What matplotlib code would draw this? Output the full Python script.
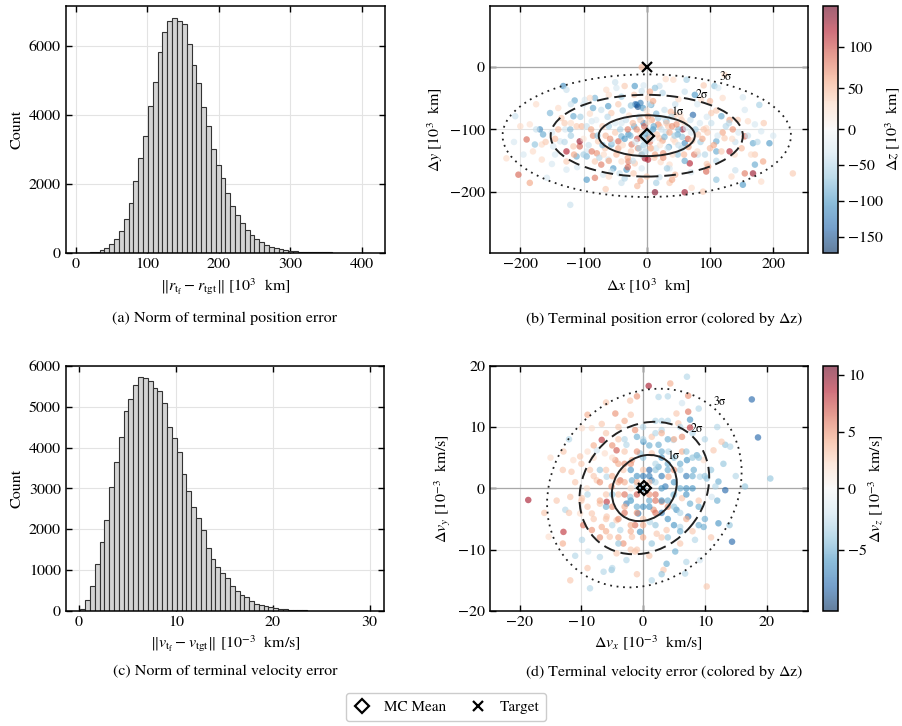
import numpy as np
import matplotlib
matplotlib.use('Agg')
import matplotlib.pyplot as plt
from matplotlib.patches import Ellipse
from matplotlib.colors import TwoSlopeNorm
from matplotlib.lines import Line2D

# ---- histogram data (60 bins each) ----
pos_bin_start, pos_bin_width = 6.3, 6.77
pos_counts = [1, 3, 12, 32, 78, 136, 243, 408, 640, 971,
              1437, 2078, 2740, 3370, 4260, 4950, 5800, 6400, 6700, 6800,
              6700, 6610, 6030, 5450, 4910, 4220, 3670, 2990, 2530, 2156,
              1738, 1360, 1097, 855, 660, 515, 388, 300, 223, 175,
              126, 97, 78, 58, 39, 30, 22, 16, 12, 9,
              7, 5, 4, 3, 2, 2, 1, 1, 0, 1]

vel_bin_start, vel_bin_width = 0.13, 0.498
vel_counts = [57, 268, 618, 1155, 1700, 2220, 3030, 3640, 4250, 4900,
              5190, 5540, 5720, 5700, 5620, 5460, 5390, 5100, 4500, 4230,
              3900, 3360, 2935, 2545, 2285, 1975, 1553, 1285, 1081, 919,
              797, 610, 496, 382, 341, 252, 171, 138, 114, 89,
              65, 49, 41, 33, 24, 18, 14, 10, 8, 6,
              5, 4, 3, 2, 2, 1, 1, 1, 0, 1]

# ---- terminal position samples [10^3 km]: (dx, dy, dz) ----
pos_samples = [
    (-132, -31, -110), (-127, -37, -40), (-114, -54, -90), (-98, -53, -30), (-82, -50, -80), (-64, -37, 30),
    (-48, -34, -30), (-35, -31, 40), (-19, -31, -100), (-8, -39, -40), (-16, -61, -140), (-208, -79, -40),
    (-185, -92, 25), (-169, -100, -110), (-164, -108, -90), (-153, -74, -80), (-140, -66, 30), (-135, -82, 40),
    (-116, -79, -90), (-129, -100, -30), (-121, -100, -80), (-111, -95, 40), (-103, -95, 50), (-87, -87, -30),
    (-85, -66, -90), (-72, -69, -40), (-61, -63, -100), (-56, -74, 40), (-190, -116, 90), (-177, -124, -70),
    (-166, -124, 30), (-148, -127, -30), (-137, -119, -30), (-127, -135, 120), (-116, -127, 40), (-106, -127, 90),
    (-106, -119, 130), (-95, -135, -30), (-87, -135, 80), (-79, -138, 70), (-77, -119, 40), (-66, -130, 40),
    (-56, -124, -90), (-45, -119, 90), (-40, -111, -80), (-29, -108, -100), (-24, -124, 80), (-14, -130, 70),
    (-8, -140, 40), (-3, -146, 130), (0, -114, -90), (-203, -172, 90), (-185, -185, 60), (-166, -148, 30),
    (-145, -140, -30), (-127, -151, 40), (-111, -143, -90), (-95, -143, -80), (-82, -151, 40), (-72, -156, 80),
    (-61, -148, -30), (-53, -162, -100), (-40, -151, 30), (-29, -151, 80), (-19, -154, 40), (-8, -162, -30),
    (-95, -180, -100), (-82, -177, 80), (-69, -172, -30), (-56, -167, -30), (-43, -170, -40), (-32, -164, -100),
    (-21, -170, 40), (-121, -220, -40), (-158, -177, -30), (-222, -146, 30), (-127, -164, -30), (-8, -1, 50),
    (20, -31, -40), (13, -34, -70), (42, -21, 30), (63, -21, -60), (107, -31, -70), (76, -45, -100),
    (86, -53, 30), (120, -50, 30), (152, -49, -30), (178, -61, -60), (7, -61, -90), (28, -69, -40),
    (44, -77, 40), (73, -77, -140), (102, -74, 40), (118, -79, -90), (131, -85, 60), (144, -85, 40),
    (160, -87, 30), (171, -92, -30), (181, -103, -30), (194, -122, -100), (18, -92, 70), (34, -95, 40),
    (57, -100, 130), (49, -108, -90), (60, -122, -110), (81, -108, 40), (94, -98, 30), (110, -119, -90),
    (123, -114, 40), (136, -100, 70), (155, -111, 90), (168, -122, -90), (171, -140, 40), (184, -151, 60),
    (171, -156, -90), (7, -130, 40), (26, -138, 70), (2, -148, 120), (36, -156, 30), (68, -154, 120),
    (94, -167, 90), (97, -159, 70), (110, -135, -90), (131, -135, 120), (139, -140, 30), (155, -170, 80),
    (168, -170, 130), (110, -180, -70), (134, -175, 30), (152, -188, -100), (181, -183, 30), (231, -170, 40),
    (13, -200, 140), (60, -200, 130), (36, -185, 40), (71, -193, 30), (89, -199, 40), (36, -162, -30),
    (49, -140, -70), (81, -140, -40), (20, -114, 40), (42, -116, 30), (31, -87, -80), (55, -85, 40),
    (2, -79, 60), (123, -13, 30), (113, -34, -30), (2, -50, 30), (155, -69, -30),
    (-60, -95, -60), (-50, -105, 40), (-40, -90, -30), (-30, -100, 80), (-20, -95, -90), (-10, -105, 30),
    (10, -100, -100), (20, -95, 50), (30, -105, -40), (40, -95, 70), (50, -100, -80), (60, -90, 30),
    (-55, -120, -40), (-45, -130, 60), (-35, -115, -100), (-25, -135, 40), (-15, -115, 100), (-5, -125, -60),
    (5, -120, 80), (15, -130, -30), (25, -118, 60), (35, -128, -90), (45, -120, 30), (55, -130, -50),
    (65, -115, 90), (70, -105, -30), (-65, -110, 50), (-70, -125, -80), (-5, -90, -120), (8, -85, 60),
    (-12, -80, -50), (15, -75, -80), (-28, -78, 30), (28, -82, -30), (-38, -70, -60), (38, -72, 50),
    (-8, -140, -70), (12, -145, 40), (-22, -150, -40), (22, -152, 30), (-30, -160, 90), (32, -162, -60),
    (0, -100, -30), (3, -112, 60), (-3, -108, -90), (-18, -60, -130), (-14, -64, -150), (-10, -58, -120),
    (-6, -66, -100), (0, -70, 20), (-25, -62, -70), (5, -60, -40), (10, -55, 60), (-45, -60, 40),
    (45, -60, -40), (-85, -110, 70), (85, -120, -60), (90, -100, 40), (-95, -95, -40), (100, -130, 50),
    (-100, -140, -60), (75, -140, 80), (-75, -145, -50), (60, -150, -90), (-60, -150, 60), (95, -80, -30),
    (-90, -75, 30), (-120, -110, -60), (120, -105, 60), (130, -90, -50), (-130, -90, 40), (140, -120, -40),
    (-145, -115, 50), (110, -150, -50), (-110, -160, -30), (0, -175, 40), (15, -185, -60), (-15, -190, 50),
    (-40, -185, -40), (40, -180, 60), (5, -40, 60), (-5, -30, -30), (60, -40, -40), (-60, -45, 30),
    (-100, -60, -30), (100, -55, 50),
    (-150, -105, -30), (-140, -100, 50), (-130, -120, -50), (-120, -90, 30), (-115, -140, 60), (-105, -80, -60),
    (-100, -115, 20), (-92, -125, -40), (-88, -100, 60), (-80, -85, -20), (-78, -110, -70), (-70, -95, 40),
    (-68, -140, 30), (-62, -80, -50), (-58, -115, 70), (-50, -90, -30), (-48, -140, 50), (-42, -100, -60),
    (-38, -125, 30), (-33, -85, -40), (-30, -145, 60), (-26, -110, -80), (-22, -90, 50), (-18, -120, -30),
    (-16, -100, 70), (-12, -130, -60), (-10, -85, 40), (-6, -115, -40), (-4, -95, 90), (-2, -135, -50),
    (2, -88, 30), (4, -105, -70), (6, -130, 50), (9, -115, -20), (11, -95, -90), (13, -140, 60),
    (16, -108, 40), (18, -82, -60), (21, -125, 20), (23, -100, -40), (26, -145, 70), (28, -112, -80),
    (31, -90, 40), (33, -130, -30), (36, -105, 60), (39, -80, -50), (41, -140, 30), (44, -110, -60),
    (47, -92, 70), (50, -125, -40), (53, -78, 30), (56, -112, -70), (59, -140, 50), (62, -98, -30),
    (66, -128, 60), (69, -85, -40), (72, -118, 40), (77, -100, -60), (80, -135, 30), (84, -90, -30),
    (88, -115, 60), (92, -140, -50), (96, -105, 40), (102, -90, -40), (106, -125, 60), (112, -110, -30),
    (118, -135, 40), (125, -95, -50), (135, -115, 30), (145, -105, -30), (150, -130, 50), (160, -110, -40),
    (-160, -120, 40), (-175, -100, -40), (-180, -135, 30), (-195, -140, -30), (165, -140, 30), (175, -120, -50),
    (-60, -175, 30), (-35, -178, -50), (-10, -182, 60), (20, -176, -40), (45, -172, 50), (70, -168, -30),
    (95, -155, 40), (-120, -60, -40), (-90, -50, 30), (-40, -48, -60), (-20, -45, 40), (25, -42, -50),
    (50, -52, 30), (80, -60, -30), (110, -70, 40), (-150, -155, -30), (-65, -195, 40), (140, -165, -40),
    (-175, -60, 30), (185, -90, 40), (200, -110, -30), (-210, -120, -30), (-200, -95, 30), (30, -20, 30),
    (-50, -25, -40), (90, -30, 40),
]
pos_dx = [p[0] for p in pos_samples]
pos_dy = [p[1] for p in pos_samples]
pos_dz = [p[2] for p in pos_samples]

pos_mean = [0.0, -110.0]
pos_cov = [[76.0 ** 2, 0.0], [0.0, 32.5 ** 2]]

# ---- terminal velocity samples [10^-3 km/s]: (dvx, dvy, dvz) ----
vel_samples = [
    (0.9, 16.7, 9), (-2.1, 14.3, 3), (-4.5, 12.2, 5), (-6.7, 10.5, 3), (-8.3, 9.8, 2), (-9.9, 9.8, 2),
    (-6.7, 7.9, 8), (-12.9, 6.0, 3), (-11.3, 4.6, 2), (-10.2, 5.2, 3), (-11.6, 2.7, 3), (-8.6, 3.0, 3),
    (-7.5, 6.2, -2), (-6.2, 5.7, 2), (-4.3, 6.2, 7), (-4.5, 4.6, 5), (-2.7, 7.1, -3), (-1.3, 9.5, 5),
    (-1.0, 8.4, -5), (0.05, 7.6, -6), (-3.2, 3.0, 3), (-3.7, 1.3, 6), (-1.8, 1.3, -5), (-18.6, -1.9, 9),
    (-12.9, -7.1, 8), (-12.6, -3.5, -3), (-11.8, -1.4, 3), (-9.9, -1.6, 3), (-9.7, -6.0, 6), (-9.9, -8.4, -3),
    (-8.3, -4.1, 3), (-8.3, -6.8, 5), (-7.0, -2.5, 3), (-5.9, -2.2, 8), (-5.9, -4.6, 3), (-6.7, -6.3, 4),
    (-7.0, -11.2, -3), (-5.4, -7.9, 3), (-4.3, -5.2, 3), (-3.7, -6.8, -3), (-2.7, -2.5, -7), (-2.1, -1.4, -4),
    (-1.3, -6.0, 6), (-1.8, -7.9, 3), (-3.2, -9.0, 5), (-5.1, -13.3, -4), (-6.4, -13.6, -3), (-8.6, -16.3, -3),
    (-11.8, -15.0, 3), (-15.3, -7.9, 2), (-0.8, -4.1, -7), (-0.5, -7.1, -6), (-1.0, 0.5, -2), (-1.8, 4.6, 4),
    (-0.5, 5.7, -4), (-5.1, 0.3, 5), (-5.9, 1.9, -3), (-7.5, 1.3, 3), (-9.1, 0.0, 2), (-10.2, -4.1, 2),
    (-8.9, -10.3, -2), (-2.7, -11.7, -3), (-1.3, -10.3, 3), (-4.3, -10.6, 3),
    (7.1, 18.2, -3), (4.4, 17.1, 4), (7.3, 15.1, 5), (2.5, 14.9, -3), (7.3, 12.5, 6), (7.6, 11.2, -6),
    (7.6, 9.9, 8), (5.7, 10.6, 3), (6.3, 8.4, 5), (4.9, 7.9, -3), (3.0, 9.5, -3), (1.4, 8.4, 3),
    (17.6, 14.5, -8), (18.6, 8.3, -8), (20.6, 1.6, -4), (13.3, 7.1, -4), (14.1, 6.8, -3), (12.7, 7.6, 3),
    (11.4, 6.2, 3), (9.8, 4.6, 2), (8.7, 5.4, -5), (7.1, 4.6, -6), (6.3, 6.0, 4), (8.2, 3.0, -5),
    (9.2, 1.9, -3), (10.3, 1.6, -4), (12.2, 1.1, -5), (11.7, 0.3, -3), (13.3, -0.3, -8), (16.5, 0.3, -4),
    (11.1, -1.4, -2), (12.2, -5.7, -6), (9.8, -6.3, -5), (8.4, -8.4, -3), (14.4, -8.7, -8), (7.3, -4.6, -7),
    (7.6, -2.5, -5), (6.3, -1.6, 3), (5.4, -3.5, -6), (6.0, -6.3, -3), (3.8, -6.8, 3), (5.2, -10.3, -5),
    (3.8, -12.3, -5), (3.3, -13.3, 3), (1.4, -9.0, -4), (2.2, -7.4, 3), (1.1, -5.5, -3), (3.6, 0.3, -7),
    (4.1, 1.9, 4), (2.5, 3.5, -5), (1.4, 1.3, -7), (3.0, -2.2, 5), (4.9, -1.1, -3), (1.7, -3.5, 5),
    (4.1, 6.0, -3), (10.3, -16.0, 3), (1.4, -15.0, -3), (9.2, -11.7, -2), (6.8, -13.9, -3), (1.4, 5.7, 3),
    (2.5, 7.1, -5), (5.4, 12.2, 3), (6.3, 13.9, -2),
    (0, 0, -5), (1, 1, 3), (-1, 2, -6), (2, -1, 6), (-2, -2, -4), (3, 2, -7), (-3, 1, 4), (1, -3, -6),
    (-1, -4, 5), (4, -2, -5), (-4, -1, 3), (2, 4, -3), (-2, 4, 5), (5, 1, -6), (-5, 2, 4), (3, -4, -7),
    (-3, -4, 6), (0, 5, -4), (0, -5, 3), (4, 4, -5), (-4, 4, 4), (4, -5, -6), (-4, -5, 5), (6, 0, -5),
    (-6, -1, 3), (1, 3, -8), (-1, -1, 7), (2, 1, -3), (-2, 0, 2), (3, -2, -6), (-3, -3, 4), (5, -3, -4),
    (-5, -3, 5), (0, 3, 3), (1, -2, -5), (6, 3, -3), (-6, 3, 3), (2, -6, -4), (-2, -6, 4), (7, -1, -6),
    (-7, 1, 5), (3, 6, -5), (-3, 6, 3), (5, 5, -4), (-5, 5, 2), (6, -4, -3), (-6, -5, 3), (7, 2, -7),
    (-7, -2, 4), (8, 0, -6), (-8, 2, 3), (0, 8, -3), (0, -8, 4), (4, 8, -5), (-4, 8, 3), (4, -8, -4),
    (-4, -8, 4), (9, -3, -5), (-9, -3, 3), (8, 5, -4), (-8, 5, 2), (6, -7, -5), (-6, -7, 4), (2, 9, -3),
    (-2, -10, 3), (10, 2, -4), (-10, -2, 3), (9, -6, -5), (-9, 6, 2), (3, 11, -3), (-3, 11, 4),
    (-10, 4, 3), (-9, -1, -3), (-8, 7, 4), (-8, -5, 3), (-7, 3, -4), (-7, -8, 5), (-6, 9, 3), (-6, -3, -5),
    (-5, 7, 5), (-5, -6, -3), (-4, 1, 4), (-4, 10, 3), (-4, -9, -4), (-3, -1, 6), (-3, 8, -3), (-2, 3, -6),
    (-2, -7, 4), (-2, 12, 3), (-1, -3, -5), (-1, 6, 5), (-1, -10, 3), (0, 2, -7), (0, -6, 4), (0, 10, -3),
    (1, -1, 5), (1, 7, -5), (1, -11, 3), (2, 3, -4), (2, -4, 6), (2, 11, -3), (3, 0, -6), (3, -8, 3),
    (3, 9, 4), (4, 3, -5), (4, -3, 5), (4, 11, -3), (5, -6, -6), (5, 8, 4), (5, -1, -4), (6, 4, -5),
    (6, -9, 3), (6, 10, -3), (7, 0, -6), (7, -5, 4), (7, 6, -4), (8, 2, -5), (8, -7, 3), (8, 9, -3),
    (9, 5, -4), (9, -2, 3), (10, -5, -5), (10, 8, -3), (11, 3, -4), (11, -8, 3), (12, -2, -5), (12, 10, -3),
    (13, 4, -4), (-11, 1, 3), (-12, -4, 3), (-12, 8, -3), (-13, -9, 4), (-13, 3, 3), (-14, -2, 3),
    (-11, -11, -3), (-9, -13, 3), (-5, -13, -3), (-1, -14, 3), (3, -14, -4), (7, -12, -3), (-9, 12, 4),
    (-6, 14, 3), (-1, 15, 5), (4, 15, -3), (9, 13, -3), (14, -6, -4), (15, 2, -3), (-15, 5, 2),
    (-16, -4, 3), (-3, 4, 5), (3, 5, -6), (-2, -2, -5), (2, -2, 6), (0, -3, -6), (-1, 1, 4), (1, 2, -7),
    (5, 3, 5), (-5, -1, -4),
]
vel_dx = [p[0] for p in vel_samples]
vel_dy = [p[1] for p in vel_samples]
vel_dz = [p[2] for p in vel_samples]

vel_mean = [0.2, 0.05]
vel_cov = [[5.25 ** 2, 4.5], [4.5, 5.4 ** 2]]

target = [0.0, 0.0]

plt.rcParams.update({
    'font.family': 'serif',
    'font.serif': ['STIXGeneral', 'Liberation Serif', 'DejaVu Serif'],
    'mathtext.fontset': 'stix',
    'font.size': 11.5,
    'axes.linewidth': 1.1,
    'xtick.direction': 'in',
    'ytick.direction': 'in',
    'xtick.top': True,
    'ytick.right': True,
    'xtick.major.size': 4,
    'ytick.major.size': 4,
    'xtick.major.width': 1.0,
    'ytick.major.width': 1.0,
})

GRID = dict(color='#e3e3e3', linewidth=0.8, zorder=0)


def draw_hist(ax, start, width, counts):
    counts = np.asarray(counts, dtype=float)
    edges = start + width * np.arange(len(counts) + 1)
    ax.bar(edges[:-1], counts, width=width, align='edge', color='#d4d4d4',
           edgecolor='#333333', linewidth=0.8, zorder=2)
    ax.grid(True, **GRID)
    ax.set_axisbelow(True)
    ax.set_ylabel('Count')


def draw_sigma(ax, mean, cov, label_deg):
    mean = np.asarray(mean)
    cov = np.asarray(cov)
    vals, vecs = np.linalg.eigh(cov)
    vals, vecs = vals[::-1], vecs[:, ::-1]
    ang = np.degrees(np.arctan2(vecs[1, 0], vecs[0, 0]))
    L = np.linalg.cholesky(cov)
    t = np.radians(label_deg)
    styles = [(1, '-', 1.4), (2, (0, (6, 3)), 1.4), (3, (0, (1, 2.6)), 1.3)]
    for k, ls, lw in styles:
        ax.add_patch(Ellipse(mean, 2 * k * np.sqrt(vals[0]), 2 * k * np.sqrt(vals[1]),
                             angle=ang, fill=False, edgecolor='#222222',
                             linestyle=ls, linewidth=lw, zorder=4))
        p = mean + k * (L @ np.array([np.cos(t), np.sin(t)]))
        ax.annotate(f'{k}σ', p, xytext=(5, 4), textcoords='offset points',
                    fontsize=8.5, ha='center', va='center', zorder=5)


fig = plt.figure(figsize=(9.03, 7.26), dpi=100)

ax_a = fig.add_axes([0.0728, 0.652, 0.3536, 0.3395])
ax_b = fig.add_axes([0.5426, 0.652, 0.3522, 0.3395])
cax_b = fig.add_axes([0.9117, 0.652, 0.0166, 0.3395])
ax_c = fig.add_axes([0.0728, 0.1584, 0.3528, 0.3379])
ax_d = fig.add_axes([0.5426, 0.1584, 0.3522, 0.3379])
cax_d = fig.add_axes([0.9117, 0.1584, 0.0166, 0.3379])

# (a)
draw_hist(ax_a, pos_bin_start, pos_bin_width, pos_counts)
ax_a.set_xticks([0, 100, 200, 300, 400])
ax_a.set_yticks([0, 2000, 4000, 6000])
ax_a.set_xlabel(r'$\|r_{\mathrm{t_f}} - r_{\mathrm{tgt}}\|$ [$10^3$  km]')

# (c)
draw_hist(ax_c, vel_bin_start, vel_bin_width, vel_counts)
ax_c.set_xticks([0, 10, 20, 30])
ax_c.set_yticks([0, 1000, 2000, 3000, 4000, 5000, 6000])
ax_c.set_xlabel(r'$\|v_{\mathrm{t_f}} - v_{\mathrm{tgt}}\|$ [$10^{-3}$  km/s]', labelpad=3)

# (b) and (d)
panels = [
    (ax_b, cax_b, pos_dx, pos_dy, pos_dz, pos_mean, pos_cov, 60, (-172, 150),
     [-150, -100, -50, 0, 50, 100], (-248, 255), (-296, 96),
     [-200, -100, 0, 100, 200], [-200, -100, 0],
     r'$\Delta x$ [$10^3$  km]', r'$\Delta y$ [$10^3$  km]', r'$\Delta z$ [$10^3$  km]'),
    (ax_d, cax_d, vel_dx, vel_dy, vel_dz, vel_mean, vel_cov, 45, (-9.9, 10.8),
     [-5, 0, 5, 10], (-24.8, 26.7), (-20, 20),
     [-20, -10, 0, 10, 20], [-20, -10, 0, 10, 20],
     r'$\Delta v_x$ [$10^{-3}$  km/s]', r'$\Delta v_y$ [$10^{-3}$  km/s]',
     r'$\Delta v_z$ [$10^{-3}$  km/s]'),
]

for (ax, cax, dx, dy, dz, mean, cov, lab_deg, zlim, cticks, xlim, ylim,
     xt, yt, xl, yl, zl) in panels:
    ax.grid(True, **GRID)
    ax.set_axisbelow(True)
    ax.axhline(0, color='#a8a8a8', linewidth=0.9, zorder=1)
    ax.axvline(0, color='#a8a8a8', linewidth=0.9, zorder=1)
    norm = TwoSlopeNorm(vmin=zlim[0], vcenter=0, vmax=zlim[1])
    sc = ax.scatter(dx, dy, c=dz, cmap='RdBu_r', norm=norm, s=22, alpha=0.62,
                    linewidths=0, zorder=3)
    draw_sigma(ax, mean, cov, lab_deg)
    ax.plot(mean[0], mean[1], marker='D', ms=7, mfc='none', mec='black', mew=1.6,
            ls='none', zorder=6)
    ax.plot(target[0], target[1], marker='x', ms=7, color='black', mew=1.6,
            ls='none', zorder=6)
    ax.set_xlim(*xlim)
    ax.set_ylim(*ylim)
    ax.set_xticks(xt)
    ax.set_yticks(yt)
    ax.set_xlabel(xl, labelpad=3 if ax is ax_d else 4)
    ax.set_ylabel(yl)
    cb = fig.colorbar(sc, cax=cax)
    cb.set_ticks(cticks)
    cb.ax.tick_params(direction='out', length=4, width=1.0, pad=3)
    cb.outline.set_linewidth(1.1)
    cb.set_label(zl, labelpad=0)

captions = [
    (0.249, 0.561, '(a) Norm of terminal position error'),
    (0.736, 0.561, r'(b) Terminal position error (colored by $\Delta$z)'),
    (0.249, 0.075, '(c) Norm of terminal velocity error'),
    (0.736, 0.075, r'(d) Terminal velocity error (colored by $\Delta$z)'),
]
for x, y, s in captions:
    fig.text(x, y, s, ha='center', va='center', fontsize=11.5)

handles = [
    Line2D([], [], marker='D', ls='none', mfc='none', mec='black', mew=1.6, ms=7,
           label='MC Mean'),
    Line2D([], [], marker='x', ls='none', color='black', mew=1.6, ms=7,
           label='Target'),
]
fig.legend(handles=handles, loc='center', bbox_to_anchor=(0.494, 0.026), ncol=2,
           frameon=True, fancybox=True, edgecolor='#cccccc', framealpha=1,
           handlelength=1.2, columnspacing=1.5, handletextpad=0.8, borderpad=0.45,
           fontsize=11)

fig.savefig('out.png', dpi=100)
